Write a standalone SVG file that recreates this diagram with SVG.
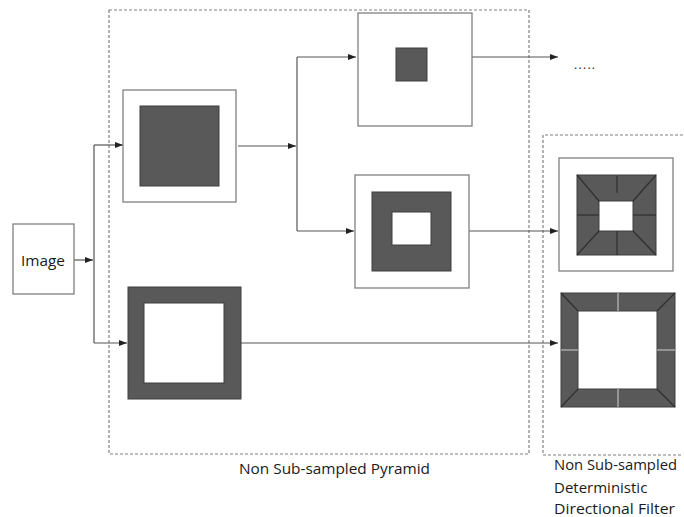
<svg xmlns="http://www.w3.org/2000/svg" width="684" height="517" viewBox="0 0 684 517">
<style>
.frame{fill:#fff;stroke:#808080;stroke-width:1.3}
.dark{fill:#595959;stroke:#3f3f3f;stroke-width:1}
.hole{fill:#fff;stroke:#3f3f3f;stroke-width:1}
.dash{fill:none;stroke:#808080;stroke-width:1.2;stroke-dasharray:3,2}
.conn{fill:none;stroke:#555;stroke-width:1.2}
.seg{stroke:#2f2f2f;stroke-width:1.2}
.lseg{stroke:#bdbdbd;stroke-width:1.2}
text{font-family:"Open Sans","Liberation Sans",sans-serif;font-size:15px;fill:#1a1a1a}
</style>
<defs>
<marker id="ah" viewBox="0 0 8 6" refX="8" refY="3" markerWidth="8" markerHeight="6" markerUnits="userSpaceOnUse" orient="auto">
<path d="M0,0 L8,3 L0,6 z" fill="#222"/>
</marker>
</defs>
<g id="pyramid-region">
<rect class="dash" x="109" y="10" width="420" height="444"/>
<text x="239" y="474" textLength="191" lengthAdjust="spacingAndGlyphs">Non Sub-sampled Pyramid</text>
</g>
<g id="filter-region">
<path class="dash" d="M683,135 H543 V455 H683"/>
<text x="554" y="470" textLength="123" lengthAdjust="spacingAndGlyphs">Non Sub-sampled</text>
<text x="554" y="493">Deterministic</text>
<text x="554" y="514" textLength="121" lengthAdjust="spacingAndGlyphs">Directional Filter</text>
</g>
<g id="connectors">
<path class="conn" d="M74,260 H93" marker-end="url(#ah)"/>
<path class="conn" d="M94,145 V343"/>
<path class="conn" d="M94,145 H123" marker-end="url(#ah)"/>
<path class="conn" d="M94,343 H127" marker-end="url(#ah)"/>
<path class="conn" d="M238,146 H296" marker-end="url(#ah)"/>
<path class="conn" d="M297,57 V231"/>
<path class="conn" d="M297,57 H356" marker-end="url(#ah)"/>
<path class="conn" d="M297,231 H354" marker-end="url(#ah)"/>
<path class="conn" d="M472,57 H558" marker-end="url(#ah)"/>
<path class="conn" d="M469,231 H558" marker-end="url(#ah)"/>
<path class="conn" d="M241,343 H558" marker-end="url(#ah)"/>
</g>
<g id="image">
<rect class="frame" x="13" y="224" width="61" height="70"/>
<text x="21" y="266" textLength="44" lengthAdjust="spacingAndGlyphs">Image</text>
</g>
<g id="lowpass1">
<rect class="frame" x="123" y="90" width="113" height="112"/>
<rect class="dark" x="140" y="106" width="79" height="80"/>
</g>
<g id="bandpass1">
<rect class="dark" x="128" y="287" width="113" height="112"/>
<rect class="hole" x="144" y="303" width="80" height="80"/>
</g>
<g id="lowpass2">
<rect class="frame" x="358" y="13" width="114" height="113"/>
<rect class="dark" x="396" y="48" width="31" height="33"/>
</g>
<g id="bandpass2">
<rect class="frame" x="355" y="175" width="114" height="113"/>
<rect class="dark" x="372" y="192" width="79" height="79"/>
<rect class="hole" x="392" y="212" width="39" height="33"/>
</g>
<g id="dfb2">
<rect class="frame" x="559" y="158" width="114" height="113"/>
<rect class="dark" x="577" y="175" width="79" height="80"/>
<rect class="hole" x="599" y="201" width="34" height="30"/>
<line class="seg" x1="577" y1="175" x2="599" y2="201"/>
<line class="seg" x1="656" y1="175" x2="633" y2="201"/>
<line class="seg" x1="577" y1="255" x2="599" y2="231"/>
<line class="seg" x1="656" y1="255" x2="633" y2="231"/>
<line class="seg" x1="617" y1="176" x2="617" y2="193"/>
<line class="seg" x1="617" y1="231" x2="617" y2="255"/>
<line class="seg" x1="577" y1="215" x2="599" y2="215"/>
<line class="seg" x1="633" y1="215" x2="656" y2="215"/>
</g>
<g id="dfb1">
<rect class="dark" x="561" y="293" width="114" height="114"/>
<rect class="hole" x="578" y="311" width="79" height="78"/>
<line class="seg" x1="561" y1="293" x2="578" y2="311"/>
<line class="seg" x1="675" y1="293" x2="657" y2="311"/>
<line class="seg" x1="561" y1="407" x2="578" y2="389"/>
<line class="seg" x1="675" y1="407" x2="657" y2="389"/>
<line class="lseg" x1="618" y1="293" x2="618" y2="311"/>
<line class="lseg" x1="618" y1="389" x2="618" y2="407"/>
<line class="lseg" x1="561" y1="350" x2="578" y2="350"/>
<line class="lseg" x1="657" y1="350" x2="675" y2="350"/>
</g>
<g id="ellipsis">
<text x="574" y="69" textLength="21" lengthAdjust="spacing" style="font-size:12px">.....</text>
</g>
</svg>
